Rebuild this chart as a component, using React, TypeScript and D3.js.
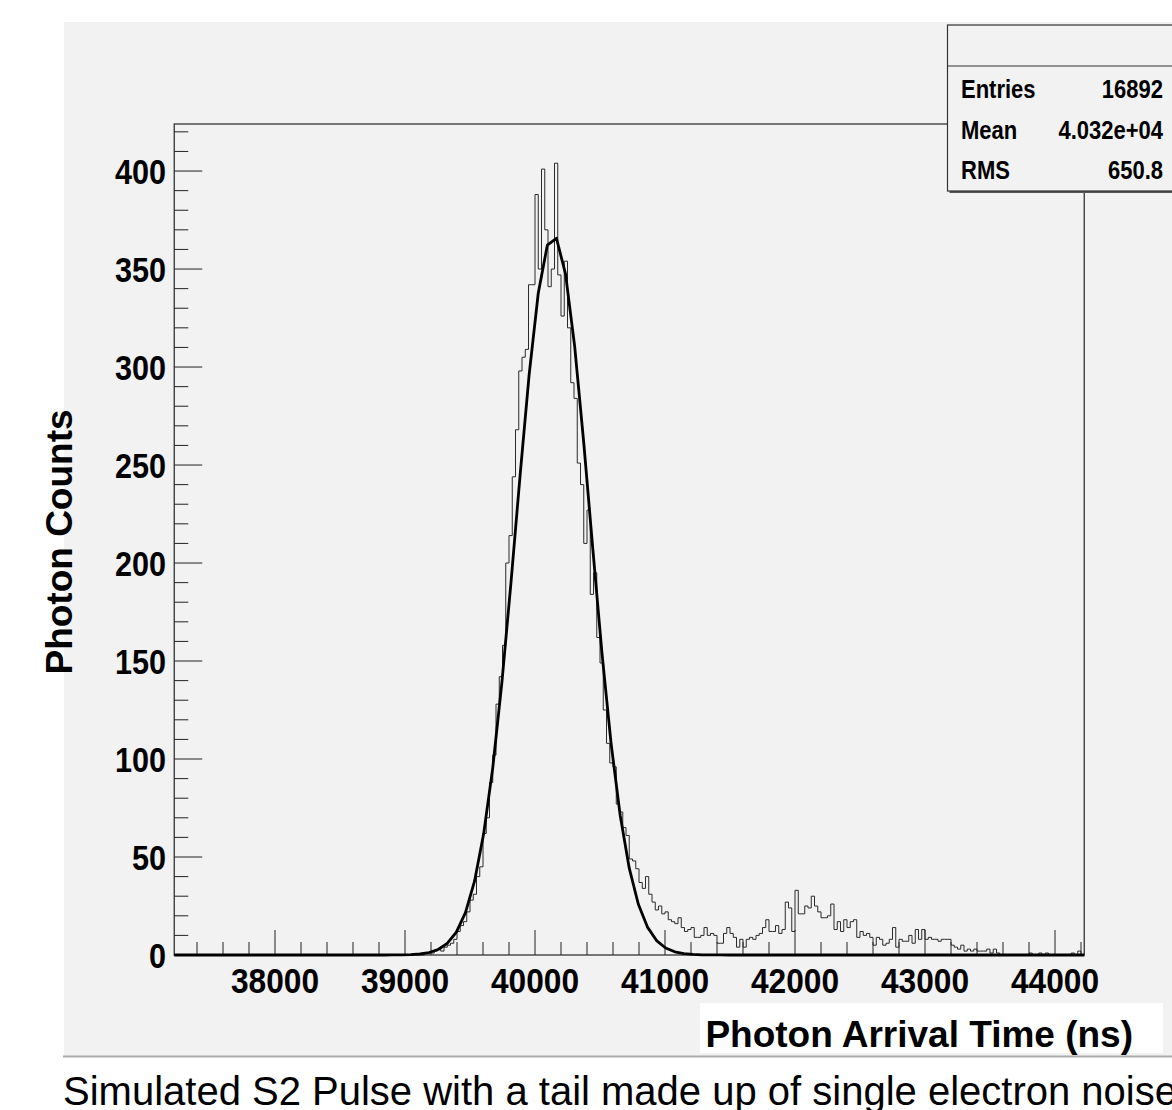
import React from 'react';
import * as d3 from 'd3';

// ---------- data ----------
const BIN_LOW = 37225;
const BIN_HIGH = 44225;
const BIN_WIDTH = 25;
const FIRST_FILLED_BIN = 39125; // left edge (ns) of the first entry of `counts`
const counts = [
  0, 1, 1, 1, 2, 3, 2, 4, 5, 6, 8, 12, 15, 17, 22, 28, 31, 40, 45, 62,
  70, 88, 102, 128, 142, 158, 200, 214, 244, 268, 298, 305, 309, 342, 342, 388, 350, 401, 370, 341,
  350, 404, 347, 326, 354, 320, 292, 284, 251, 240, 210, 227, 184, 195, 162, 149, 125, 108, 98, 96,
  77, 73, 65, 61, 49, 48, 44, 37, 34, 40, 31, 27, 23, 25, 21, 22, 18, 17, 16, 19,
  14, 12, 13, 14, 9, 9, 10, 14, 10, 11, 10, 6, 6, 11, 14, 11, 9, 4, 8, 4,
  8, 9, 8, 10, 11, 14, 18, 12, 12, 15, 11, 13, 27, 24, 12, 33, 21, 21, 25, 24,
  30, 25, 22, 19, 19, 20, 26, 13, 17, 12, 18, 14, 17, 18, 9, 12, 10, 11, 9, 5,
  9, 8, 5, 6, 8, 14, 4, 8, 7, 7, 10, 6, 13, 8, 13, 8, 9, 8, 8, 7,
  8, 8, 8, 5, 4, 3, 5, 2, 3, 2, 3, 2, 2, 2, 3, 1, 3, 1, 0, 0,
  0, 0, 0, 0, 0, 0, 0, 1, 0, 0, 1, 0, 1, 0, 0, 0, 0, 0, 0, 0,
  1, 0, 2, 0,
];

const FIT_CONSTANT = 367;
const FIT_MEAN = 40141;
const FIT_SIGMA = 284;
const FIT_POINTS = 100;

const xMajorTicks = [38000, 39000, 40000, 41000, 42000, 43000, 44000];
const xMinorStep = 200;
const yMajorTicks = [0, 50, 100, 150, 200, 250, 300, 350, 400];
const yMinorStep = 10;
const Y_MAX = 424;

const statsLabels = ['Entries', 'Mean', 'RMS'];
const statsValues = ['16892', '4.032e+04', '650.8'];
const xTitle = 'Photon Arrival Time (ns)';
const yTitle = 'Photon Counts';
const caption = 'Simulated S2 Pulse with a tail made up of single electron noise';

// ---------- layout ----------
const W = 1172;
const H = 1110;
const FRAME = { left: 174.25, right: 1084.25, top: 124, bottom: 955 };
const FONT = '"Liberation Sans", Arial, Helvetica, sans-serif';

export default function App() {
  const x = d3.scaleLinear().domain([BIN_LOW, BIN_HIGH]).range([FRAME.left, FRAME.right]);
  const y = d3.scaleLinear().domain([0, Y_MAX]).range([FRAME.bottom, FRAME.top]);

  const nBins = Math.round((BIN_HIGH - BIN_LOW) / BIN_WIDTH);
  const offset = Math.round((FIRST_FILLED_BIN - BIN_LOW) / BIN_WIDTH);
  const bins = d3.range(nBins).map((i) => ({
    x0: BIN_LOW + i * BIN_WIDTH,
    c: counts[i - offset] ?? 0,
  }));
  const stepPts: [number, number][] = bins.map((b) => [b.x0, b.c]);
  stepPts.push([BIN_HIGH, bins[bins.length - 1].c]);
  const histPath = d3
    .line<[number, number]>()
    .x((d) => x(d[0]))
    .y((d) => y(d[1]))
    .curve(d3.curveStepAfter)(stepPts) as string;

  const fitPts: [number, number][] = d3.range(FIT_POINTS + 1).map((k) => {
    const t = BIN_LOW + ((BIN_HIGH - BIN_LOW) * k) / FIT_POINTS;
    const z = (t - FIT_MEAN) / FIT_SIGMA;
    return [t, FIT_CONSTANT * Math.exp(-0.5 * z * z)];
  });
  const fitPath = d3
    .line<[number, number]>()
    .x((d) => x(d[0]))
    .y((d) => y(d[1]))(fitPts) as string;

  const xMinor = d3.range(37400, BIN_HIGH, xMinorStep).filter((v) => !xMajorTicks.includes(v));
  const yMinor = d3.range(0, Y_MAX, yMinorStep).filter((v) => !yMajorTicks.includes(v));

  const axisColor = '#222';

  return (
    <div style={{ position: 'absolute', left: 0, top: 0 }}>
      <svg width={W} height={H} style={{ display: 'block', background: '#fff' }}>
        {/* canvas */}
        <rect x={64} y={22} width={W - 64} height={1034} fill="#f2f2f2" />
        <line x1={63} x2={W} y1={1056.5} y2={1056.5} stroke="#ababab" strokeWidth={2} />

        {/* frame */}
        <rect
          x={FRAME.left}
          y={FRAME.top}
          width={FRAME.right - FRAME.left}
          height={FRAME.bottom - FRAME.top}
          fill="none"
          stroke="#333"
          strokeWidth={1.3}
        />

        {/* y ticks */}
        {yMajorTicks.map((v) => (
          <line key={'ym' + v} x1={FRAME.left} x2={FRAME.left + 28} y1={y(v)} y2={y(v)} stroke={axisColor} strokeWidth={1} />
        ))}
        {yMinor.map((v) => (
          <line key={'yn' + v} x1={FRAME.left} x2={FRAME.left + 14} y1={y(v)} y2={y(v)} stroke={axisColor} strokeWidth={1} />
        ))}
        {/* x ticks */}
        {xMajorTicks.map((v) => (
          <line key={'xm' + v} x1={x(v)} x2={x(v)} y1={FRAME.bottom} y2={FRAME.bottom - 25} stroke={axisColor} strokeWidth={1} />
        ))}
        {xMinor.map((v) => (
          <line key={'xn' + v} x1={x(v)} x2={x(v)} y1={FRAME.bottom} y2={FRAME.bottom - 13} stroke={axisColor} strokeWidth={1} />
        ))}

        {/* histogram */}
        <path d={histPath} fill="none" stroke="#2a2a2a" strokeWidth={1} />
        {/* fit */}
        <path d={fitPath} fill="none" stroke="#000" strokeWidth={2.8} strokeLinejoin="round" />

        {/* y tick labels */}
        {yMajorTicks.map((v) => (
          <text
            key={'yl' + v}
            transform={`translate(166,${y(v) + 13}) scale(0.85,1)`}
            textAnchor="end"
            fontFamily={FONT}
            fontWeight="bold"
            fontSize={36}
            fill="#000"
          >
            {v}
          </text>
        ))}
        {/* x tick labels */}
        {xMajorTicks.map((v) => (
          <text
            key={'xl' + v}
            transform={`translate(${x(v)},993) scale(0.88,1)`}
            textAnchor="middle"
            fontFamily={FONT}
            fontWeight="bold"
            fontSize={36}
            fill="#000"
          >
            {v}
          </text>
        ))}

        {/* x title with white box */}
        <rect x={700} y={1003} width={463} height={50} fill="#fff" />
        <text
          transform="translate(1133,1047) scale(1,1)"
          textAnchor="end"
          fontFamily={FONT}
          fontWeight="bold"
          fontSize={37}
          fill="#000"
        >
          {xTitle}
        </text>

        {/* y title */}
        <text
          transform="translate(72,542) rotate(-90)"
          textAnchor="middle"
          fontFamily={FONT}
          fontWeight="bold"
          fontSize={37}
          fill="#000"
        >
          {yTitle}
        </text>

        {/* stats box */}
        <rect x={949.5} y={27} width={W} height={166} fill="#555" />
        <rect x={947.5} y={25} width={W} height={166} fill="#f2f2f2" stroke="#333" strokeWidth={1.2} />
        <line x1={947.5} x2={W} y1={66} y2={66} stroke="#333" strokeWidth={1.2} />
        {statsLabels.map((s, i) => (
          <text
            key={'sl' + s}
            transform={`translate(961,${98 + i * 40.5}) scale(0.88,1)`}
            fontFamily={FONT}
            fontWeight="bold"
            fontSize={25}
            fill="#000"
          >
            {s}
          </text>
        ))}
        {statsValues.map((s, i) => (
          <text
            key={'sv' + s}
            transform={`translate(1163,${98 + i * 40.5}) scale(0.88,1)`}
            textAnchor="end"
            fontFamily={FONT}
            fontWeight="bold"
            fontSize={25}
            fill="#000"
          >
            {s}
          </text>
        ))}

        {/* caption */}
        <text x={63} y={1105} fontFamily={FONT} fontSize={40} fill="#000">
          {caption}
        </text>
      </svg>
    </div>
  );
}
